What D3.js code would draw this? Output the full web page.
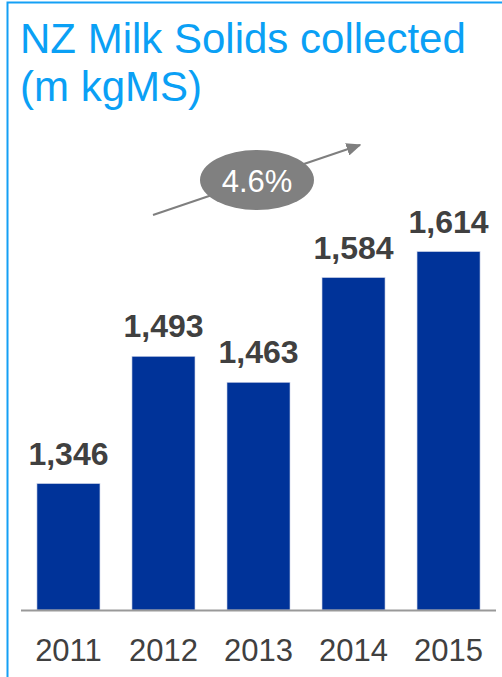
<!DOCTYPE html>
<html>
<head>
<meta charset="utf-8">
<script src="https://cdn.jsdelivr.net/npm/d3@7"></script>
<style>
  body { margin: 0; background: #fff; }
  svg { display: block; font-family: "Liberation Sans", Arial, sans-serif; }
</style>
</head>
<body>
<div id="chart"></div>
<script>
// Data
var years = ["2011", "2012", "2013", "2014", "2015"];
var milkSolids = [1346, 1493, 1463, 1584, 1614];
var growthLabel = "4.6%";
var titleLines = ["NZ Milk Solids collected", "(m kgMS)"];

var width = 502;
var height = 677;

var svg = d3.select("#chart")
  .append("svg")
  .attr("width", width)
  .attr("height", height);

// Frame (top and left blue rule)
svg.append("path")
  .attr("d", "M7.5,677 V2.5 H502")
  .attr("fill", "none")
  .attr("stroke", "#14a0f5")
  .attr("stroke-width", 2);

// Title
svg.append("g")
  .selectAll("text")
  .data(titleLines)
  .enter().append("text")
  .attr("x", 20)
  .attr("y", function(d, i) { return 53 + i * 48; })
  .attr("fill", "#0aa0f5")
  .style("font-size", "42px")
  .text(function(d) { return d; });

// Scales
var x = d3.scaleBand()
  .domain(years)
  .range([21, 496])
  .paddingInner(0.337)
  .paddingOuter(0.168);

var y = d3.scaleLinear()
  .domain([1200, 1800])
  .range([610, 90.6]);

// Bars
svg.append("g")
  .selectAll("rect")
  .data(milkSolids)
  .enter().append("rect")
  .attr("x", function(d, i) { return x(years[i]); })
  .attr("y", function(d) { return y(d); })
  .attr("width", x.bandwidth())
  .attr("height", function(d) { return y(1200) - y(d); })
  .attr("fill", "#003399")
  .attr("stroke", "#c8d0e6")
  .attr("stroke-width", 0.6);

// Value labels
svg.append("g")
  .selectAll("text")
  .data(milkSolids)
  .enter().append("text")
  .attr("x", function(d, i) { return x(years[i]) + x.bandwidth() / 2; })
  .attr("y", function(d) { return y(d) - 19; })
  .attr("text-anchor", "middle")
  .attr("fill", "#404040")
  .style("font-size", "32px")
  .style("font-weight", "bold")
  .text(function(d) { return d3.format(",")(d); });

// X axis
var xAxis = d3.axisBottom(x).tickSize(0).tickPadding(0);
var axisG = svg.append("g")
  .attr("transform", "translate(0,610)")
  .call(xAxis);
axisG.select(".domain")
  .attr("d", "M21,0.5H496")
  .attr("stroke", "#999")
  .attr("stroke-width", 2);
axisG.selectAll(".tick text")
  .attr("y", 51)
  .attr("dy", null)
  .attr("fill", "#404040")
  .style("font-size", "31px")
  .style("font-family", "'Liberation Sans', Arial, sans-serif");

// Growth arrow with ellipse badge
var defs = svg.append("defs");
defs.append("marker")
  .attr("id", "arrowhead")
  .attr("viewBox", "0 0 10 10")
  .attr("refX", 9)
  .attr("refY", 5)
  .attr("markerWidth", 7.5)
  .attr("markerHeight", 6.5)
  .attr("orient", "auto")
  .attr("preserveAspectRatio", "none")
  .append("path")
  .attr("d", "M0,0 L10,5 L0,10 z")
  .attr("fill", "#7f7f7f");

svg.append("line")
  .attr("x1", 153).attr("y1", 215)
  .attr("x2", 360).attr("y2", 145)
  .attr("stroke", "#7f7f7f")
  .attr("stroke-width", 2)
  .attr("marker-end", "url(#arrowhead)");

svg.append("ellipse")
  .attr("cx", 257).attr("cy", 180)
  .attr("rx", 57).attr("ry", 30)
  .attr("fill", "#808080");

svg.append("text")
  .attr("x", 257)
  .attr("y", 192)
  .attr("text-anchor", "middle")
  .attr("fill", "#fff")
  .style("font-size", "31px")
  .text(growthLabel);
</script>
</body>
</html>
